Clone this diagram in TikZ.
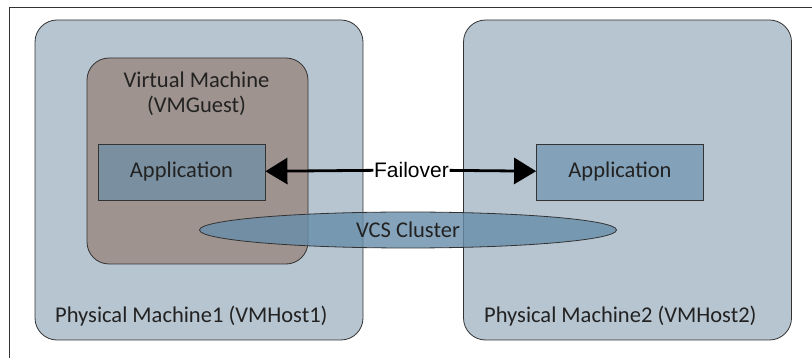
\documentclass[tikz,border=0pt]{standalone}
\usepackage{fontspec}
\setmainfont{Carlito}
\newfontfamily\failfont{Liberation Sans}
\usetikzlibrary{arrows.meta,shapes.geometric}
\definecolor{hostfill}{HTML}{B7C5D1}
\definecolor{guestfill}{HTML}{9E938E}
\definecolor{appfill}{HTML}{678DAA}
\definecolor{edgegray}{HTML}{333333}
\definecolor{txtgray}{HTML}{222222}
\newcommand{\bigtxt}{\fontsize{22.5}{24.5}\selectfont}

\begin{document}
\begin{tikzpicture}[x=1pt,y=-1pt,
    host/.style={draw=edgegray, line width=0.8pt, fill=hostfill, rounded corners=22pt,
                 minimum width=328pt, minimum height=320pt, inner sep=0pt},
    guest/.style={draw=edgegray, line width=0.8pt, fill=guestfill, rounded corners=22pt,
                 minimum width=221pt, minimum height=206pt, inner sep=0pt},
    appbox/.style={draw=edgegray, line width=0.8pt, fill=appfill, fill opacity=0.64, text opacity=1,
                 minimum width=167pt, minimum height=56pt, inner sep=0pt, font=\bigtxt, text=txtgray},
    cluster/.style={draw=edgegray, line width=0.8pt, fill=appfill, fill opacity=0.8, text opacity=1,
                 ellipse, minimum width=417pt, minimum height=36pt, inner sep=0pt, font=\bigtxt, text=txtgray},
    lbl/.style={font=\bigtxt, text=txtgray, inner sep=0pt},
    failarrow/.style={line width=2.8pt, -{Triangle[length=22pt,width=26pt]}}]
    \useasboundingbox (0,0) rectangle (812,358);
    % frame of the page
    \draw[edgegray, line width=0.9pt] (9.5,358) -- (9.5,7.5) -- (812,7.5);
    % hosts
    \node[host] (pm1) at (199,180) {};
    \node[host] (pm2) at (627.5,180) {};
    \node[lbl, anchor=west] (pm1lbl) at (55,316) {Physical Machine1 (VMHost1)};
    \node[lbl, anchor=west] (pm2lbl) at (484,316) {Physical Machine2 (VMHost2)};
    % guest
    \node[guest] (vm) at (197.5,161) {};
    \node[lbl, align=center] (vmlbl) at (196.5,94) {Virtual Machine\\(VMGuest)};
    % applications
    \node[appbox] (app1) at (181.5,172) {Application};
    \node[appbox] (app2) at (620,172) {Application};
    \node[cluster] (vcs) at (408,230) {VCS Cluster};
    % failover
    \node[inner sep=0.5pt, font=\failfont\fontsize{21}{24}\selectfont] (fail) at (411.5,170) {Failover};
    \draw[failarrow] (fail) -- (app1);
    \draw[failarrow] (fail) -- (app2);
\end{tikzpicture}
\end{document}
